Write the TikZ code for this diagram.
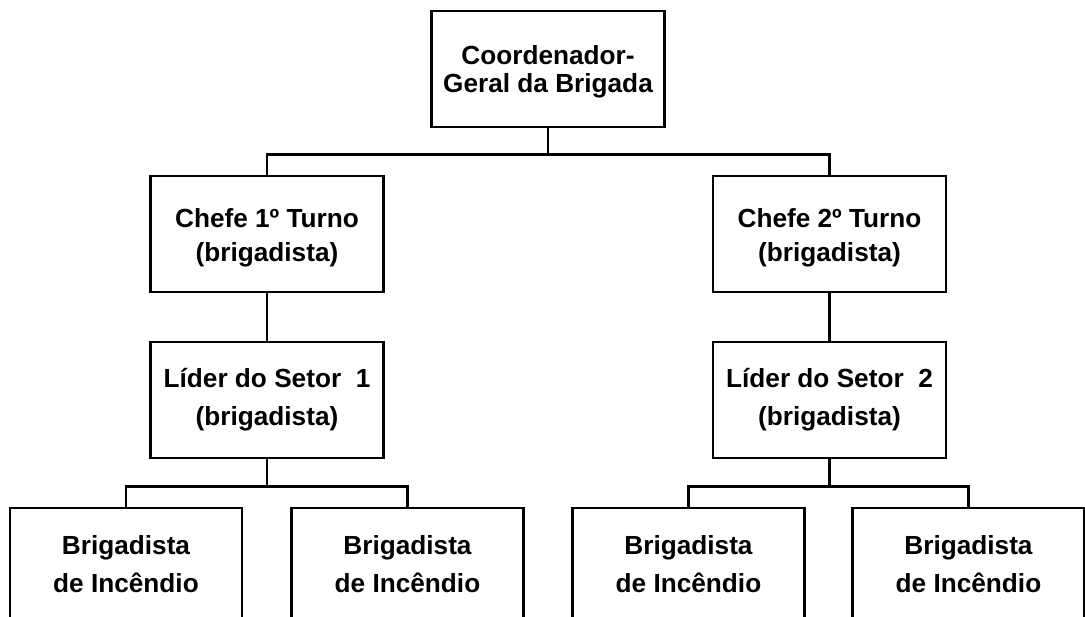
\documentclass[tikz,border=0pt]{standalone}
\usepackage{fontspec}
\setmainfont{Liberation Sans}
\usetikzlibrary{calc}
\tikzset{
  box/.style={draw=black, line width=2.6pt, fill=white, rectangle, inner sep=0pt,
    minimum width=233pt, minimum height=116pt},
  lbl/.style={align=center, inner sep=0pt},
  conn/.style={draw=black, line width=2.6pt},
}
\begin{document}
\begin{tikzpicture}[x=1pt,y=-1pt]
\useasboundingbox (0,0) rectangle (1085,617);
% boxes
\node[box] (top) at (548,69) {};
\node[box] (c1) at (267,234) {};
\node[box] (c2) at (829.5,234) {};
\node[box] (l1) at (267,400) {};
\node[box] (l2) at (829.5,400) {};
\node[box, minimum width=232pt, minimum height=160pt] (b1) at (126,588) {};
\node[box, minimum width=232pt, minimum height=160pt] (b2) at (407.5,588) {};
\node[box, minimum width=232pt, minimum height=160pt] (b3) at (688.5,588) {};
\node[box, minimum width=232pt, minimum height=160pt] (b4) at (968.5,588) {};
% texts
\node[lbl, font=\fontsize{26.2}{28}\selectfont\bfseries] (ttop) at ($(top.center)+(0,3)$) {Coordenador-\\Geral da Brigada};
\node[lbl, font=\fontsize{26.2}{34}\selectfont\bfseries] (tc1) at ($(c1.center)+(0,4)$) {Chefe 1º Turno\\(brigadista)};
\node[lbl, font=\fontsize{26.2}{34}\selectfont\bfseries] (tc2) at ($(c2.center)+(0,4)$) {Chefe 2º Turno\\(brigadista)};
\node[lbl, font=\fontsize{26.2}{38}\selectfont\bfseries] (tl1) at (l1.center) {Líder do Setor~~1\\(brigadista)};
\node[lbl, font=\fontsize{26.2}{38}\selectfont\bfseries] (tl2) at (l2.center) {Líder do Setor~~2\\(brigadista)};
\foreach \b in {b1,b2,b3,b4}{
  \node[lbl, font=\fontsize{26.2}{38}\selectfont\bfseries] (t\b) at ($(\b.north)+(0,57)$) {Brigadista\\de Incêndio};
}
% connectors
\draw[conn] (top.south) -- ++(0,26) coordinate (j0);
\draw[conn] (j0) -| (c1.north);
\draw[conn] (j0) -| (c2.north);
\draw[conn] (c1.south) -- (l1.north);
\draw[conn] (c2.south) -- (l2.north);
\draw[conn] (l1.south) -- ++(0,27) coordinate (j1);
\draw[conn] (j1) -| (b1.north);
\draw[conn] (j1) -| (b2.north);
\draw[conn] (l2.south) -- ++(0,27) coordinate (j2);
\draw[conn] (j2) -| (b3.north);
\draw[conn] (j2) -| (b4.north);
\end{tikzpicture}
\end{document}
